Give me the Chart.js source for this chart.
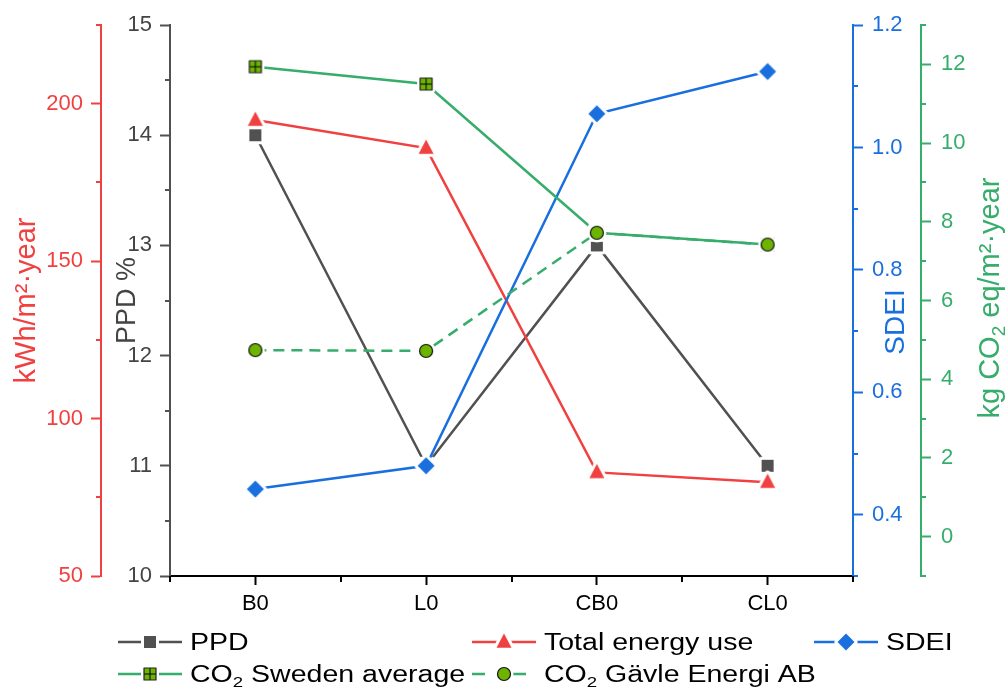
<!DOCTYPE html>
<html>
<head>
<meta charset="utf-8">
<title>PPD, energy use, SDEI and CO2 per case</title>
<script src="https://cdn.jsdelivr.net/npm/chart.js@4/dist/chart.umd.min.js"></script>
<style>
  html, body { margin: 0; padding: 0; background: #fff; }
  canvas { display: block; }
</style>
</head>
<body>
<canvas id="chart" width="1007" height="691"></canvas>
<script>
// Cases on the x axis
const cases = ["B0", "L0", "CB0", "CL0"];

// Series values
const ppd = [14.0, 11.0, 13.0, 11.0];            // %
const energyUse = [194.8, 185.9, 82.9, 79.8];    // kWh/m2 year
const sdei = [0.442, 0.480, 1.055, 1.124];
const co2Sweden = [11.94, 11.5, 7.72, 7.42];     // kg CO2 eq/m2 year
const co2Gavle = [4.74, 4.72, 7.72, 7.42];

// Tick labels for the four y axes
const ppdTicks = [10, 11, 12, 13, 14, 15];
const energyTicks = [50, 100, 150, 200];
const sdeiTicks = [0.4, 0.6, 0.8, 1.0, 1.2];
const co2Ticks = [0, 2, 4, 6, 8, 10, 12];

// Colours
const GRAY = "#515151";
const RED = "#F14040";
const BLUE = "#1A6FDF";
const GREEN = "#37AD6B";
const LIME = "#6CB400";
const FONT = "'Liberation Sans', Arial, Helvetica, sans-serif";

Chart.defaults.font.family = FONT;

// 🔹 Marker bitmaps with a white halo, so lines stop short of the symbols
const HALO = 3;
function makeMarker(shape, size, fill, edge) {
    const pad = HALO + 2;
    const c = document.createElement("canvas");
    let w = Math.ceil(size + pad * 2);
    if (w % 2) w++;
    c.width = c.height = w;
    const ctx = c.getContext("2d");
    const m = w / 2, h = size / 2;

    function path() {
        ctx.beginPath();
        if (shape === "square" || shape === "grid") {
            ctx.rect(m - h, m - h, size, size);
        } else if (shape === "triangle") {
            ctx.moveTo(m, m - h * 1.15);
            ctx.lineTo(m + h, m + h * 0.75);
            ctx.lineTo(m - h, m + h * 0.75);
            ctx.closePath();
        } else if (shape === "diamond") {
            ctx.moveTo(m, m - h);
            ctx.lineTo(m + h, m);
            ctx.lineTo(m, m + h);
            ctx.lineTo(m - h, m);
            ctx.closePath();
        } else {
            ctx.arc(m, m, h, 0, Math.PI * 2);
        }
    }

    ctx.lineJoin = "round";
    path();
    ctx.strokeStyle = "#fff";
    ctx.lineWidth = HALO * 2;
    ctx.stroke();
    path();
    ctx.fillStyle = fill;
    ctx.fill();
    if (shape === "grid") {
        ctx.strokeStyle = "#000";
        ctx.lineWidth = 1;
        ctx.beginPath();
        ctx.moveTo(m, m - h); ctx.lineTo(m, m + h);
        ctx.moveTo(m - h, m); ctx.lineTo(m + h, m);
        ctx.stroke();
    }
    if (edge) {
        path();
        ctx.strokeStyle = edge;
        ctx.lineWidth = 1.2;
        ctx.stroke();
    }
    return c;
}

const markers = {
    ppd: makeMarker("square", 12, GRAY, null),
    energy: makeMarker("triangle", 15, RED, null),
    sdei: makeMarker("diamond", 17, BLUE, null),
    sweden: makeMarker("grid", 12, LIME, "#222"),
    gavle: makeMarker("circle", 13, LIME, "#111")
};

// 🔹 Shared y-axis styling; sizes are fixed so the plot area lands where it should
function yAxis(opts) {
    return {
        type: "linear",
        position: opts.position,
        min: opts.min,
        max: opts.max,
        weight: opts.weight,
        afterFit: (scale) => { scale.width = opts.width; },
        afterBuildTicks: (scale) => { scale.ticks = opts.ticks.map(v => ({ value: v })); },
        border: { display: true, color: opts.color, width: 2 },
        grid: {
            drawOnChartArea: false,
            drawTicks: true,
            tickLength: 10,
            tickWidth: 2,
            tickColor: opts.color
        },
        ticks: {
            color: opts.labelColor || opts.color,
            font: { size: 22 },
            padding: opts.padding,
            callback: opts.format || (v => v)
        },
        title: {
            // right-hand titles are drawn by the sideTitles plugin (read bottom to top)
            display: opts.position === "left",
            text: opts.title,
            color: opts.labelColor || opts.color,
            font: { size: opts.titleSize },
            padding: { top: opts.titlePad, bottom: 0 }
        }
    };
}

// Minor tick steps per axis: [minor, major]
const minorSteps = {
    yEnergy: [25, 50],
    yPPD: [0.5, 1],
    ySDEI: [0.1, 0.2],
    yCO2: [1, 2]
};

// 🔹 Plugin: short minor ticks between the labelled ones
const minorTicksPlugin = {
    id: "minorTicks",
    afterDraw(chart) {
        const ctx = chart.ctx;
        ctx.save();
        ctx.lineWidth = 2;
        for (const id in minorSteps) {
            const s = chart.scales[id];
            const [minor, major] = minorSteps[id];
            const n = Math.round((s.max - s.min) / minor);
            ctx.strokeStyle = s.options.border.color;
            ctx.beginPath();
            for (let i = 0; i <= n; i++) {
                const v = s.min + i * minor;
                const r = v / major;
                if (Math.abs(r - Math.round(r)) < 1e-6) continue;
                const y = Math.round(s.getPixelForValue(v));
                if (s.position === "left") {
                    ctx.moveTo(s.right, y); ctx.lineTo(s.right - 5, y);
                } else {
                    ctx.moveTo(s.left, y); ctx.lineTo(s.left + 5, y);
                }
            }
            ctx.stroke();
        }
        // category boundaries on the x axis
        const x = chart.scales.x;
        ctx.strokeStyle = "#000";
        ctx.beginPath();
        for (let i = 0; i <= cases.length; i++) {
            const px = Math.round(x.getPixelForValue(i - 0.5));
            ctx.moveTo(px, x.top); ctx.lineTo(px, x.top + 6);
        }
        ctx.stroke();
        ctx.restore();
    }
};

// Text with "₂" set as a lowered, smaller 2; optional horizontal stretch
function richWidth(ctx, text, size, stretch) {
    let w = 0;
    text.split("₂").forEach((part, i) => {
        if (i > 0) {
            ctx.font = `${Math.round(size * 0.65)}px ${FONT}`;
            w += ctx.measureText("2").width * stretch;
        }
        ctx.font = `${size}px ${FONT}`;
        w += ctx.measureText(part).width * stretch;
    });
    return w;
}

function drawRich(ctx, text, x, y, size, stretch) {
    let cx = x;
    text.split("₂").forEach((part, i) => {
        if (i > 0) {
            ctx.font = `${Math.round(size * 0.65)}px ${FONT}`;
            ctx.save();
            ctx.translate(cx, y + size * 0.22);
            ctx.scale(stretch, 1);
            ctx.fillText("2", 0, 0);
            ctx.restore();
            cx += ctx.measureText("2").width * stretch;
        }
        ctx.font = `${size}px ${FONT}`;
        ctx.save();
        ctx.translate(cx, y);
        ctx.scale(stretch, 1);
        ctx.fillText(part, 0, 0);
        ctx.restore();
        cx += ctx.measureText(part).width * stretch;
    });
}

// 🔹 Plugin: titles of the right-hand axes, rotated to read upwards
const sideTitles = [
    { axis: "ySDEI", text: "SDEI", size: 28, offset: 51, y: 322 },
    { axis: "yCO2", text: "kg CO₂ eq/m²·year", size: 29, offset: 78, y: 298 }
];

const sideTitlesPlugin = {
    id: "sideTitles",
    afterDraw(chart) {
        const ctx = chart.ctx;
        ctx.save();
        ctx.textBaseline = "alphabetic";
        sideTitles.forEach(t => {
            const s = chart.scales[t.axis];
            ctx.fillStyle = s.options.border.color;
            const w = richWidth(ctx, t.text, t.size, 1);
            ctx.save();
            ctx.translate(s.left + t.offset, t.y);
            ctx.rotate(-Math.PI / 2);
            drawRich(ctx, t.text, -w / 2, 0, t.size, 1);
            ctx.restore();
        });
        ctx.restore();
    }
};

// 🔹 Plugin: two-row legend below the axis, with subscripted CO2
const legendRows = [
    [{ ds: 0, x: 118 }, { ds: 1, x: 472 }, { ds: 2, x: 814 }],
    [{ ds: 3, x: 118 }, { ds: 4, x: 472 }]
];
const legendRowY = [642, 674];

const legendPlugin = {
    id: "rowLegend",
    afterDraw(chart) {
        const ctx = chart.ctx;
        ctx.save();
        legendRows.forEach((row, r) => {
            const y = legendRowY[r];
            row.forEach(item => {
                const ds = chart.data.datasets[item.ds];
                ctx.strokeStyle = ds.borderColor;
                ctx.lineWidth = 2.5;
                ctx.beginPath();
                if (ds.borderDash) {
                    ctx.moveTo(item.x, y); ctx.lineTo(item.x + 13, y);
                    ctx.moveTo(item.x + 41, y); ctx.lineTo(item.x + 54, y);
                } else {
                    ctx.moveTo(item.x, y); ctx.lineTo(item.x + 64, y);
                }
                ctx.stroke();
                const img = ds.pointStyle;
                ctx.drawImage(img, item.x + 32 - img.width / 2, y - img.height / 2);
                ctx.fillStyle = "#000";
                ctx.textBaseline = "alphabetic";
                drawRich(ctx, ds.label, item.x + 72, y + 8, 23, 1.24);
            });
        });
        ctx.restore();
    }
};

// ✅ Build the chart
new Chart(document.getElementById("chart"), {
    type: "line",
    data: {
        labels: cases,
        datasets: [
            {
                label: "PPD", data: ppd, yAxisID: "yPPD",
                borderColor: GRAY, borderWidth: 2.5,
                pointStyle: markers.ppd, pointRadius: 6, order: 4
            },
            {
                label: "Total energy use", data: energyUse, yAxisID: "yEnergy",
                borderColor: RED, borderWidth: 2.5,
                pointStyle: markers.energy, pointRadius: 6, order: 3
            },
            {
                label: "SDEI", data: sdei, yAxisID: "ySDEI",
                borderColor: BLUE, borderWidth: 2.5,
                pointStyle: markers.sdei, pointRadius: 6, order: 2
            },
            {
                label: "CO₂ Sweden average", data: co2Sweden, yAxisID: "yCO2",
                borderColor: GREEN, borderWidth: 2.5,
                pointStyle: markers.sweden, pointRadius: 6, order: 1
            },
            {
                label: "CO₂ Gävle Energi AB", data: co2Gavle, yAxisID: "yCO2",
                borderColor: GREEN, borderWidth: 2.5, borderDash: [11, 7],
                pointStyle: markers.gavle, pointRadius: 6, order: 0
            }
        ]
    },
    options: {
        responsive: false,
        animation: false,
        layout: { padding: { top: 25, bottom: 75, left: 0, right: 0 } },
        plugins: {
            legend: { display: false },
            tooltip: { enabled: false }
        },
        elements: { line: { tension: 0 } },
        scales: {
            x: {
                type: "category",
                offset: true,
                afterFit: (scale) => { scale.height = 40; },
                border: { display: true, color: "#000", width: 2 },
                grid: { drawOnChartArea: false, tickLength: 9, tickWidth: 2, tickColor: "#000" },
                ticks: { color: "#000", font: { size: 22 }, padding: 6 }
            },
            yEnergy: yAxis({
                position: "left", weight: 1, width: 101, min: 50, max: 225,
                ticks: energyTicks, color: RED, padding: 8,
                title: "kWh/m²·year", titleSize: 29, titlePad: 10
            }),
            yPPD: yAxis({
                position: "left", weight: 0, width: 69, min: 10, max: 15,
                ticks: ppdTicks, color: GRAY, labelColor: "#444", padding: 8,
                title: "PPD %", titleSize: 27, titlePad: 10
            }),
            ySDEI: yAxis({
                position: "right", weight: 0, width: 68, min: 0.3, max: 1.2,
                ticks: sdeiTicks, color: BLUE, padding: 9,
                format: v => Number(v).toFixed(1)
            }),
            yCO2: yAxis({
                position: "right", weight: 1, width: 86, min: -1, max: 13,
                ticks: co2Ticks, color: GREEN, padding: 10
            })
        }
    },
    plugins: [minorTicksPlugin, sideTitlesPlugin, legendPlugin]
});
</script>
</body>
</html>
